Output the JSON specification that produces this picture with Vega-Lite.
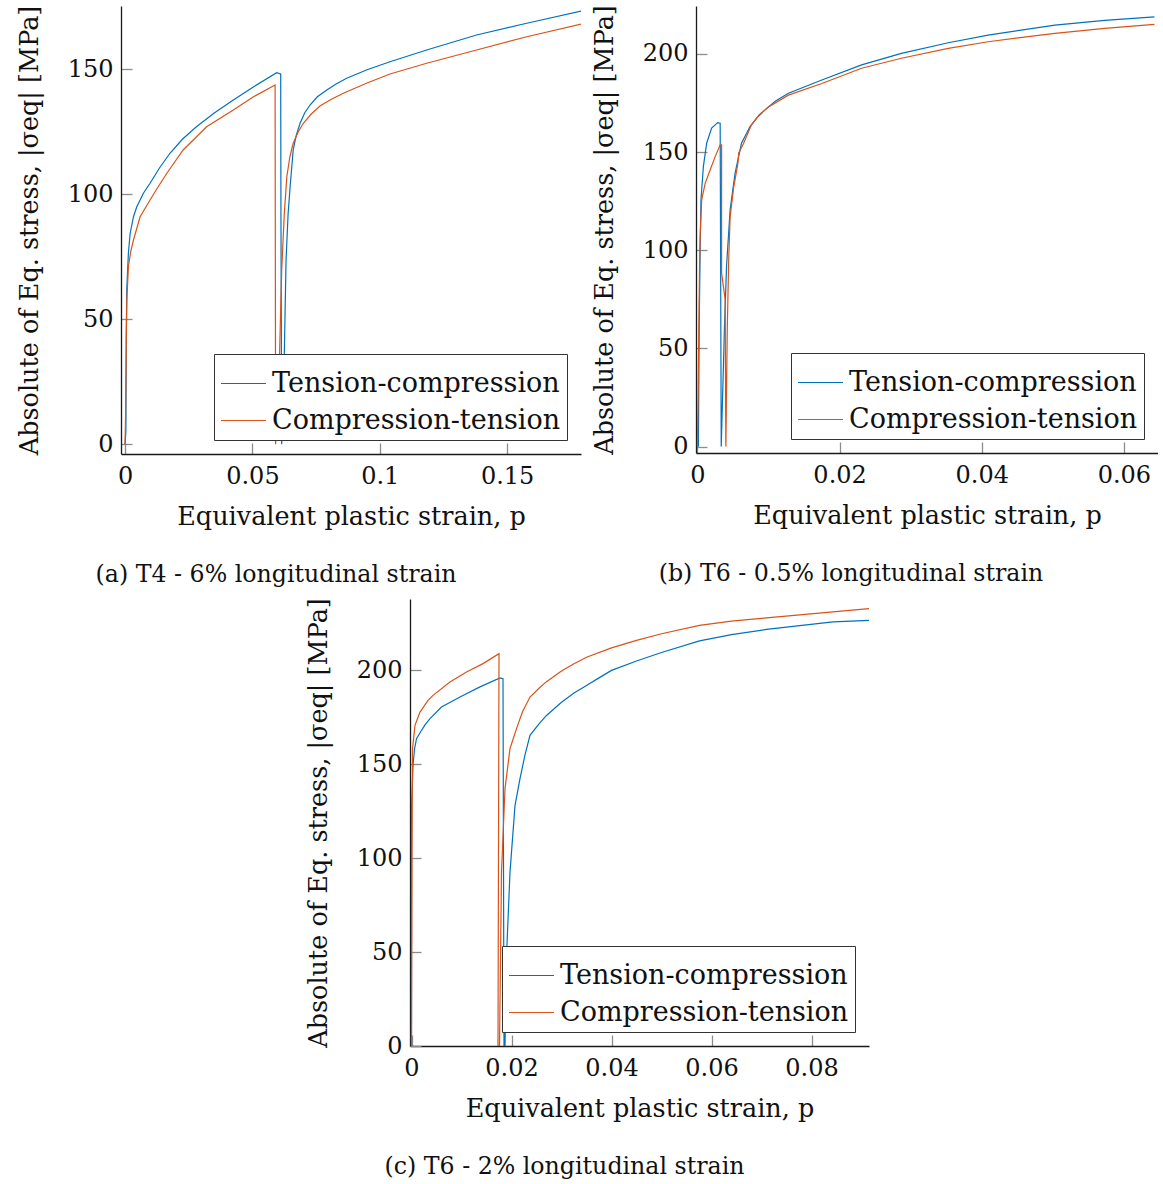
{
  "$schema": "https://vega.github.io/schema/vega-lite/v6.json",
  "background": "white",
  "padding": {"left": 17, "top": 4, "right": 0, "bottom": 0},
  "datasets": {
    "a": [
      {"p": 0, "s": 0, "series": "Tension-compression"},
      {"p": 0.0003, "s": 5, "series": "Tension-compression"},
      {"p": 0.0005, "s": 45, "series": "Tension-compression"},
      {"p": 0.00066, "s": 61.7, "series": "Tension-compression"},
      {"p": 0.0013, "s": 76.4, "series": "Tension-compression"},
      {"p": 0.002, "s": 84.4, "series": "Tension-compression"},
      {"p": 0.0033, "s": 91, "series": "Tension-compression"},
      {"p": 0.0046, "s": 95, "series": "Tension-compression"},
      {"p": 0.0072, "s": 100.4, "series": "Tension-compression"},
      {"p": 0.0098, "s": 104.4, "series": "Tension-compression"},
      {"p": 0.0135, "s": 110.5, "series": "Tension-compression"},
      {"p": 0.0177, "s": 116.5, "series": "Tension-compression"},
      {"p": 0.0225, "s": 122, "series": "Tension-compression"},
      {"p": 0.028, "s": 127, "series": "Tension-compression"},
      {"p": 0.035, "s": 132.5, "series": "Tension-compression"},
      {"p": 0.0425, "s": 137.7, "series": "Tension-compression"},
      {"p": 0.0505, "s": 143, "series": "Tension-compression"},
      {"p": 0.0595, "s": 148.6, "series": "Tension-compression"},
      {"p": 0.0611, "s": 148.1, "series": "Tension-compression"},
      {"p": 0.0612, "s": 90, "series": "Tension-compression"},
      {"p": 0.0615, "s": 0, "series": "Tension-compression"},
      {"p": 0.0625, "s": 35, "series": "Tension-compression"},
      {"p": 0.0632, "s": 73.7, "series": "Tension-compression"},
      {"p": 0.064, "s": 92, "series": "Tension-compression"},
      {"p": 0.0648, "s": 103, "series": "Tension-compression"},
      {"p": 0.066, "s": 117.7, "series": "Tension-compression"},
      {"p": 0.0672, "s": 123.5, "series": "Tension-compression"},
      {"p": 0.0687, "s": 128.4, "series": "Tension-compression"},
      {"p": 0.0705, "s": 132.5, "series": "Tension-compression"},
      {"p": 0.0726, "s": 135.7, "series": "Tension-compression"},
      {"p": 0.0755, "s": 139, "series": "Tension-compression"},
      {"p": 0.0792, "s": 141.7, "series": "Tension-compression"},
      {"p": 0.083, "s": 144.2, "series": "Tension-compression"},
      {"p": 0.087, "s": 146.4, "series": "Tension-compression"},
      {"p": 0.095, "s": 149.8, "series": "Tension-compression"},
      {"p": 0.104, "s": 153, "series": "Tension-compression"},
      {"p": 0.1184, "s": 157.7, "series": "Tension-compression"},
      {"p": 0.138, "s": 163.7, "series": "Tension-compression"},
      {"p": 0.1577, "s": 168.4, "series": "Tension-compression"},
      {"p": 0.1792, "s": 173.3, "series": "Tension-compression"},
      {"p": 0, "s": 0, "series": "Compression-tension"},
      {"p": 0.0002, "s": 11, "series": "Compression-tension"},
      {"p": 0.0005, "s": 45, "series": "Compression-tension"},
      {"p": 0.0007, "s": 57.7, "series": "Compression-tension"},
      {"p": 0.0013, "s": 71, "series": "Compression-tension"},
      {"p": 0.0022, "s": 77, "series": "Compression-tension"},
      {"p": 0.0033, "s": 81.7, "series": "Compression-tension"},
      {"p": 0.0059, "s": 91, "series": "Compression-tension"},
      {"p": 0.0098, "s": 97.7, "series": "Compression-tension"},
      {"p": 0.013, "s": 103, "series": "Compression-tension"},
      {"p": 0.0164, "s": 108.4, "series": "Compression-tension"},
      {"p": 0.0228, "s": 117.7, "series": "Compression-tension"},
      {"p": 0.032, "s": 127, "series": "Compression-tension"},
      {"p": 0.0425, "s": 133.7, "series": "Compression-tension"},
      {"p": 0.0504, "s": 139, "series": "Compression-tension"},
      {"p": 0.0589, "s": 143.7, "series": "Compression-tension"},
      {"p": 0.0591, "s": 0, "series": "Compression-tension"},
      {"p": 0.0605, "s": 30, "series": "Compression-tension"},
      {"p": 0.0615, "s": 70, "series": "Compression-tension"},
      {"p": 0.0625, "s": 92, "series": "Compression-tension"},
      {"p": 0.0635, "s": 107, "series": "Compression-tension"},
      {"p": 0.0647, "s": 115, "series": "Compression-tension"},
      {"p": 0.066, "s": 120.4, "series": "Compression-tension"},
      {"p": 0.068, "s": 125, "series": "Compression-tension"},
      {"p": 0.07, "s": 128.4, "series": "Compression-tension"},
      {"p": 0.073, "s": 132, "series": "Compression-tension"},
      {"p": 0.0765, "s": 135.3, "series": "Compression-tension"},
      {"p": 0.081, "s": 138, "series": "Compression-tension"},
      {"p": 0.0857, "s": 140.4, "series": "Compression-tension"},
      {"p": 0.095, "s": 144.5, "series": "Compression-tension"},
      {"p": 0.104, "s": 148.1, "series": "Compression-tension"},
      {"p": 0.1184, "s": 152.4, "series": "Compression-tension"},
      {"p": 0.138, "s": 157.7, "series": "Compression-tension"},
      {"p": 0.1577, "s": 163, "series": "Compression-tension"},
      {"p": 0.1792, "s": 168.1, "series": "Compression-tension"}
    ],
    "b": [
      {"p": 0, "s": 0, "series": "Tension-compression"},
      {"p": 0.00014, "s": 0.3, "series": "Tension-compression"},
      {"p": 0.00024, "s": 58, "series": "Tension-compression"},
      {"p": 0.00038, "s": 100, "series": "Tension-compression"},
      {"p": 0.0005, "s": 125.7, "series": "Tension-compression"},
      {"p": 0.00084, "s": 142.7, "series": "Tension-compression"},
      {"p": 0.0013, "s": 154.5, "series": "Tension-compression"},
      {"p": 0.002, "s": 162.2, "series": "Tension-compression"},
      {"p": 0.00285, "s": 165, "series": "Tension-compression"},
      {"p": 0.0032, "s": 164.7, "series": "Tension-compression"},
      {"p": 0.00335, "s": 0, "series": "Tension-compression"},
      {"p": 0.0038, "s": 60, "series": "Tension-compression"},
      {"p": 0.0041, "s": 92, "series": "Tension-compression"},
      {"p": 0.0046, "s": 120.6, "series": "Tension-compression"},
      {"p": 0.0053, "s": 139.3, "series": "Tension-compression"},
      {"p": 0.0062, "s": 154.5, "series": "Tension-compression"},
      {"p": 0.0074, "s": 163, "series": "Tension-compression"},
      {"p": 0.0084, "s": 167.6, "series": "Tension-compression"},
      {"p": 0.0095, "s": 171.5, "series": "Tension-compression"},
      {"p": 0.011, "s": 176, "series": "Tension-compression"},
      {"p": 0.0128, "s": 180, "series": "Tension-compression"},
      {"p": 0.0175, "s": 186.7, "series": "Tension-compression"},
      {"p": 0.0231, "s": 194.4, "series": "Tension-compression"},
      {"p": 0.0287, "s": 200.3, "series": "Tension-compression"},
      {"p": 0.0353, "s": 205.7, "series": "Tension-compression"},
      {"p": 0.0409, "s": 209.6, "series": "Tension-compression"},
      {"p": 0.0503, "s": 214.7, "series": "Tension-compression"},
      {"p": 0.0573, "s": 217.1, "series": "Tension-compression"},
      {"p": 0.0643, "s": 218.9, "series": "Tension-compression"},
      {"p": 0, "s": 0, "series": "Compression-tension"},
      {"p": 0.00014, "s": 41, "series": "Compression-tension"},
      {"p": 0.0003, "s": 91.8, "series": "Compression-tension"},
      {"p": 0.0004, "s": 109, "series": "Compression-tension"},
      {"p": 0.0006, "s": 125.7, "series": "Compression-tension"},
      {"p": 0.0011, "s": 134.2, "series": "Compression-tension"},
      {"p": 0.0018, "s": 141, "series": "Compression-tension"},
      {"p": 0.0025, "s": 147.7, "series": "Compression-tension"},
      {"p": 0.0032, "s": 153.7, "series": "Compression-tension"},
      {"p": 0.0034, "s": 153.7, "series": "Compression-tension"},
      {"p": 0.0034, "s": 88.5, "series": "Compression-tension"},
      {"p": 0.0039, "s": 74.9, "series": "Compression-tension"},
      {"p": 0.004, "s": 0, "series": "Compression-tension"},
      {"p": 0.0042, "s": 60, "series": "Compression-tension"},
      {"p": 0.0044, "s": 95, "series": "Compression-tension"},
      {"p": 0.0046, "s": 117, "series": "Compression-tension"},
      {"p": 0.0051, "s": 132, "series": "Compression-tension"},
      {"p": 0.0057, "s": 144.4, "series": "Compression-tension"},
      {"p": 0.0058, "s": 149.5, "series": "Compression-tension"},
      {"p": 0.0065, "s": 154.5, "series": "Compression-tension"},
      {"p": 0.0076, "s": 163.9, "series": "Compression-tension"},
      {"p": 0.0087, "s": 169, "series": "Compression-tension"},
      {"p": 0.01, "s": 173, "series": "Compression-tension"},
      {"p": 0.0128, "s": 179, "series": "Compression-tension"},
      {"p": 0.0175, "s": 184.9, "series": "Compression-tension"},
      {"p": 0.0231, "s": 192.7, "series": "Compression-tension"},
      {"p": 0.0287, "s": 197.8, "series": "Compression-tension"},
      {"p": 0.0353, "s": 202.8, "series": "Compression-tension"},
      {"p": 0.0409, "s": 206.2, "series": "Compression-tension"},
      {"p": 0.0503, "s": 210.5, "series": "Compression-tension"},
      {"p": 0.0573, "s": 213, "series": "Compression-tension"},
      {"p": 0.0643, "s": 215, "series": "Compression-tension"}
    ],
    "c": [
      {"p": 0, "s": 0, "series": "Tension-compression"},
      {"p": 0.00002, "s": 128, "series": "Tension-compression"},
      {"p": 0.0003, "s": 149.4, "series": "Tension-compression"},
      {"p": 0.0006, "s": 158, "series": "Tension-compression"},
      {"p": 0.001, "s": 163.6, "series": "Tension-compression"},
      {"p": 0.0018, "s": 167.2, "series": "Tension-compression"},
      {"p": 0.0027, "s": 171, "series": "Tension-compression"},
      {"p": 0.0037, "s": 174.3, "series": "Tension-compression"},
      {"p": 0.006, "s": 180.5, "series": "Tension-compression"},
      {"p": 0.0097, "s": 185.8, "series": "Tension-compression"},
      {"p": 0.0137, "s": 191.2, "series": "Tension-compression"},
      {"p": 0.0177, "s": 196, "series": "Tension-compression"},
      {"p": 0.0183, "s": 195.6, "series": "Tension-compression"},
      {"p": 0.0185, "s": 0, "series": "Tension-compression"},
      {"p": 0.0187, "s": 0, "series": "Tension-compression"},
      {"p": 0.019, "s": 48, "series": "Tension-compression"},
      {"p": 0.0197, "s": 92.6, "series": "Tension-compression"},
      {"p": 0.0207, "s": 128, "series": "Tension-compression"},
      {"p": 0.0217, "s": 142.3, "series": "Tension-compression"},
      {"p": 0.0227, "s": 155, "series": "Tension-compression"},
      {"p": 0.0237, "s": 165.4, "series": "Tension-compression"},
      {"p": 0.0255, "s": 171.5, "series": "Tension-compression"},
      {"p": 0.027, "s": 176, "series": "Tension-compression"},
      {"p": 0.03, "s": 183, "series": "Tension-compression"},
      {"p": 0.0325, "s": 188, "series": "Tension-compression"},
      {"p": 0.035, "s": 192, "series": "Tension-compression"},
      {"p": 0.0375, "s": 196, "series": "Tension-compression"},
      {"p": 0.04, "s": 200, "series": "Tension-compression"},
      {"p": 0.045, "s": 205, "series": "Tension-compression"},
      {"p": 0.05, "s": 209.5, "series": "Tension-compression"},
      {"p": 0.0576, "s": 215.7, "series": "Tension-compression"},
      {"p": 0.064, "s": 219, "series": "Tension-compression"},
      {"p": 0.071, "s": 221.8, "series": "Tension-compression"},
      {"p": 0.0843, "s": 225.8, "series": "Tension-compression"},
      {"p": 0.0915, "s": 226.6, "series": "Tension-compression"},
      {"p": 0, "s": 0, "series": "Compression-tension"},
      {"p": 0.0001, "s": 100, "series": "Compression-tension"},
      {"p": 0.0002, "s": 158.3, "series": "Compression-tension"},
      {"p": 0.0007, "s": 170.7, "series": "Compression-tension"},
      {"p": 0.0017, "s": 177.8, "series": "Compression-tension"},
      {"p": 0.0033, "s": 184, "series": "Compression-tension"},
      {"p": 0.0043, "s": 186.7, "series": "Compression-tension"},
      {"p": 0.0077, "s": 193.8, "series": "Compression-tension"},
      {"p": 0.011, "s": 199.1, "series": "Compression-tension"},
      {"p": 0.0143, "s": 203.6, "series": "Compression-tension"},
      {"p": 0.0175, "s": 208.9, "series": "Compression-tension"},
      {"p": 0.0173, "s": 0, "series": "Compression-tension"},
      {"p": 0.0176, "s": 0, "series": "Compression-tension"},
      {"p": 0.018, "s": 92.6, "series": "Compression-tension"},
      {"p": 0.0187, "s": 137, "series": "Compression-tension"},
      {"p": 0.0197, "s": 158.3, "series": "Compression-tension"},
      {"p": 0.021, "s": 169, "series": "Compression-tension"},
      {"p": 0.0222, "s": 178, "series": "Compression-tension"},
      {"p": 0.0237, "s": 185.8, "series": "Compression-tension"},
      {"p": 0.0255, "s": 190.5, "series": "Compression-tension"},
      {"p": 0.027, "s": 194, "series": "Compression-tension"},
      {"p": 0.03, "s": 199.7, "series": "Compression-tension"},
      {"p": 0.0325, "s": 203.5, "series": "Compression-tension"},
      {"p": 0.035, "s": 207, "series": "Compression-tension"},
      {"p": 0.04, "s": 212, "series": "Compression-tension"},
      {"p": 0.045, "s": 216, "series": "Compression-tension"},
      {"p": 0.05, "s": 219.5, "series": "Compression-tension"},
      {"p": 0.0576, "s": 224, "series": "Compression-tension"},
      {"p": 0.064, "s": 226.2, "series": "Compression-tension"},
      {"p": 0.071, "s": 227.9, "series": "Compression-tension"},
      {"p": 0.0843, "s": 231.1, "series": "Compression-tension"},
      {"p": 0.0915, "s": 232.9, "series": "Compression-tension"}
    ]
  },
  "config": {
    "font": "DejaVu Serif",
    "view": {"stroke": null},
    "axis": {
      "domainColor": "#1a1a1a", "domainWidth": 1.3,
      "tickColor": "#8c8c8c", "tickWidth": 1.3, "tickSize": -11,
      "labelFont": "DejaVu Serif", "labelFontSize": 24, "labelColor": "#111",
      "labelFlush": false, "labelOverlap": false,
      "titleFont": "DejaVu Serif", "titleFontSize": 25.5, "titleFontWeight": "normal", "titleColor": "#111",
      "grid": false
    },
    "axisX": {"labelPadding": 21, "titlePadding": 16},
    "axisY": {"labelPadding": 19, "titlePadding": 25},
    "legend": {
      "orient": "bottom-right", "offset": 14, "strokeColor": "#333", "fillColor": "white",
      "padding": 6, "symbolType": "stroke", "symbolSize": 2025, "symbolStrokeWidth": 1.2,
      "labelFont": "DejaVu Serif", "labelFontSize": 27, "labelColor": "#111", "labelLimit": 0,
      "labelOffset": 5, "rowPadding": -2, "cornerRadius": 0
    },
    "title": {"font": "DejaVu Serif", "fontSize": 23.7, "fontWeight": "normal", "color": "#111"}
  },
  "spacing": 10,
  "center": true,
  "resolve": {"scale": {"color": "independent"}, "legend": {"color": "independent"}},
  "vconcat": [
    {
      "spacing": 11,
      "resolve": {"scale": {"color": "independent"}, "legend": {"color": "independent"}},
      "hconcat": [
        {
          "width": 460, "height": 448,
          "data": {"name": "a"},
          "mark": {"type": "line", "strokeWidth": 1.2, "clip": true},
          "title": {"text": "(a) T4 - 6% longitudinal strain", "orient": "bottom", "anchor": "middle", "frame": "group", "dx": -75, "offset": 33},
          "encoding": {
            "x": {"field": "p", "type": "quantitative", "scale": {"domain": [-0.0016, 0.179], "nice": false, "zero": false}, "axis": {"values": [0, 0.05, 0.1, 0.15], "format": "~g", "title": "Equivalent plastic strain, p"}},
            "y": {"field": "s", "type": "quantitative", "scale": {"domain": [-3.9, 175.3], "nice": false, "zero": false}, "axis": {"values": [0, 50, 100, 150], "title": "Absolute of Eq. stress, |σeq| [MPa]"}},
            "color": {"field": "series", "type": "nominal", "scale": {"domain": ["Tension-compression", "Compression-tension"], "range": ["#0072BD", "#D95319"]}, "legend": {"title": null}},
            "order": {"value": null}
          }
        },
        {
          "width": 462, "height": 447,
          "data": {"name": "b"},
          "mark": {"type": "line", "strokeWidth": 1.2, "clip": true},
          "title": {"text": "(b) T6 - 0.5% longitudinal strain", "orient": "bottom", "anchor": "middle", "frame": "group", "dx": -76, "offset": 33},
          "encoding": {
            "x": {"field": "p", "type": "quantitative", "scale": {"domain": [-0.0002, 0.0648], "nice": false, "zero": false}, "axis": {"values": [0, 0.02, 0.04, 0.06], "format": "~g", "title": "Equivalent plastic strain, p"}},
            "y": {"field": "s", "type": "quantitative", "scale": {"domain": [-3.25, 224.4], "nice": false, "zero": false}, "axis": {"values": [0, 50, 100, 150, 200], "title": "Absolute of Eq. stress, |σeq| [MPa]"}},
            "color": {"field": "series", "type": "nominal", "scale": {"domain": ["Tension-compression", "Compression-tension"], "range": ["#0072BD", "#D95319"]}, "legend": {"title": null}},
            "order": {"value": null}
          }
        }
      ]
    },
    {
      "width": 459, "height": 447,
      "data": {"name": "c"},
      "mark": {"type": "line", "strokeWidth": 1.2, "clip": true},
      "title": {"text": "(c) T6 - 2% longitudinal strain", "orient": "bottom", "anchor": "middle", "frame": "group", "dx": -75, "offset": 33},
      "encoding": {
        "x": {"field": "p", "type": "quantitative", "scale": {"domain": [-0.0003, 0.0915], "nice": false, "zero": false}, "axis": {"values": [0, 0.02, 0.04, 0.06, 0.08], "format": "~g", "title": "Equivalent plastic strain, p"}},
        "y": {"field": "s", "type": "quantitative", "scale": {"domain": [0, 238], "nice": false, "zero": false}, "axis": {"values": [0, 50, 100, 150, 200], "title": "Absolute of Eq. stress, |σeq| [MPa]"}},
        "color": {"field": "series", "type": "nominal", "scale": {"domain": ["Tension-compression", "Compression-tension"], "range": ["#0072BD", "#D95319"]}, "legend": {"title": null}},
        "order": {"value": null}
      }
    }
  ]
}
